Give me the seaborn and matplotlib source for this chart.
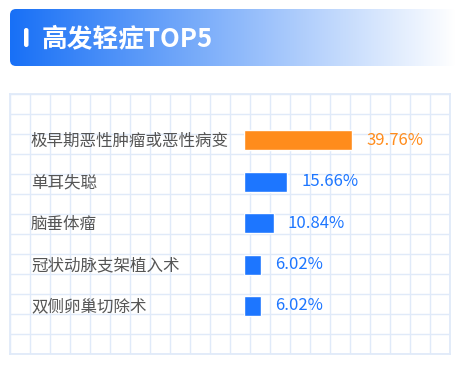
import numpy as np
import pandas as pd
import matplotlib
matplotlib.use("Agg")
import matplotlib.pyplot as plt
import matplotlib.transforms as mtransforms
from matplotlib.patches import FancyBboxPatch
import seaborn as sns

categories = ["极早期恶性肿瘤或恶性病变", "单耳失聪", "脑垂体瘤", "冠状动脉支架植入术", "双侧卵巢切除术"]
values = [39.76, 15.66, 10.84, 6.02, 6.02]
value_labels = ["39.76%", "15.66%", "10.84%", "6.02%", "6.02%"]
title = "高发轻症TOP5"

ORANGE = "#FF8C1C"
BLUE = "#1D76FF"
GRID = "#E0EAF9"
TEXT = "#555555"

sns.set_theme(style="white")
plt.rcParams['font.family'] = ['Noto Sans CJK SC', 'DejaVu Sans']

W, H = 459, 366
fig = plt.figure(figsize=(W / 100, H / 100), dpi=100)
fig.patch.set_facecolor("white")

def fx(px):
    return px / W

def fy(py):
    return 1 - py / H

# ---- header with gradient ----
hax = fig.add_axes([0, 0, 1, 1])
hax.set_xlim(0, W)
hax.set_ylim(H, 0)
hax.axis("off")
x0, x1, y0, y1 = 10, 456, 9, 66
box = FancyBboxPatch((x0, y0), x1 - x0, y1 - y0,
                     boxstyle="round,pad=0,rounding_size=6",
                     facecolor="none", edgecolor="none")
hax.add_patch(box)
c0 = np.array(matplotlib.colors.to_rgb("#1870F6"))
c1 = np.array([1.0, 1.0, 1.0])
t = np.linspace(0, 1, 256)
grad = c0[None, :] * (1 - t[:, None]) + c1[None, :] * t[:, None]
img = hax.imshow(grad[None, :, :], extent=(x0, x1, y1, y0), aspect="auto", zorder=1)
img.set_clip_path(box)
pill = FancyBboxPatch((24, 28), 4.5, 19, boxstyle="round,pad=0,rounding_size=2.2",
                      facecolor="white", edgecolor="none", zorder=2)
hax.add_patch(pill)
hax.text(42, 39, title, color="white", fontsize=18.5, fontweight="bold",
         va="center", ha="left", zorder=3)

# ---- grid panel ----
gl, gr, gt, gb = 9.5, 449.5, 94, 354
gax = fig.add_axes([fx(gl), fy(gb), fx(gr - gl), (gb - gt) / H])
gax.set_xlim(0, gr - gl)
gax.set_ylim(gb - gt, 0)
gax.set_xticks(np.arange(0, gr - gl + 1, 20))
gax.set_yticks(np.arange(0, gb - gt + 1, 20))
gax.grid(True, color=GRID, linewidth=1.0)
gax.tick_params(length=0, labelbottom=False, labelleft=False)
for s in gax.spines.values():
    s.set_color(GRID)
    s.set_linewidth(1.3)
gax.set_facecolor("white")

# ---- bars ----
bx0 = 244.3
px_per_pct = 2.71
top_c, step = 140.3, 41.4
ay0 = top_c - step / 2
ay1 = top_c + 4 * step + step / 2
bax = fig.add_axes([fx(bx0), fy(ay1), fx(gr - bx0), (ay1 - ay0) / H])
bax.patch.set_alpha(0)
df = pd.DataFrame({"cat": categories, "val": values})
sns.barplot(data=df, y="cat", x="val", hue="cat",
            palette=[ORANGE, BLUE, BLUE, BLUE, BLUE], legend=False,
            orient="h", width=20 / step, ax=bax, saturation=1)
bax.set_xlim(0, (gr - bx0) / px_per_pct)
bax.set_ylim(4.5, -0.5)
bax.axis("off")

lab_colors = [ORANGE, BLUE, BLUE, BLUE, BLUE]
for i, (v, lab) in enumerate(zip(values, value_labels)):
    bax.annotate(lab, xy=(v, i), xytext=(10.3, 0), textcoords="offset points",
                 va="center", ha="left", fontsize=12, color=lab_colors[i])

trans = mtransforms.blended_transform_factory(fig.transFigure, bax.transData)
for i, c in enumerate(categories):
    bax.text(fx(31), i + 0.03, c, transform=trans, ha="left", va="center",
             fontsize=11.9, color=TEXT, clip_on=False)

fig.savefig("out.png", dpi=100, facecolor="white")
